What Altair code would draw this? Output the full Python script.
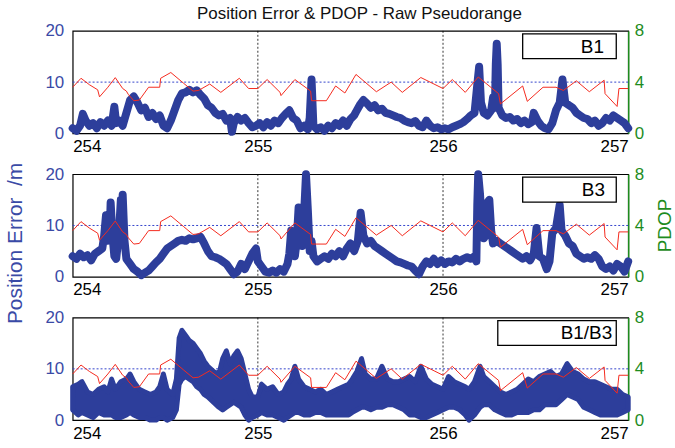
import altair as alt
import pandas as pd

TITLE = "Position Error & PDOP - Raw Pseudorange"
FONT = "Liberation Sans"
panel_labels = ["B1", "B3", "B1/B3"]
x_ticks = [254, 255, 256, 257]
grid_days = [255, 256]
err_ticks = [0, 10, 20]
pdop_ticks = [0, 4, 8]
err_ref = [10]

# PDOP (same geometry in every panel)
pdop_day = [254.00, 254.045, 254.09, 254.135, 254.145, 254.19, 254.23, 254.27, 254.29, 254.30,
            254.33, 254.36, 254.41, 254.47, 254.475, 254.53, 254.60, 254.65, 254.68, 254.74,
            254.80, 254.90, 254.95, 255.00, 255.05, 255.12, 255.125, 255.20, 255.285, 255.29,
            255.37, 255.42, 255.47, 255.53, 255.64, 255.72, 255.78, 255.88, 256.00, 256.05,
            256.12, 256.19, 256.30, 256.31, 256.43, 256.455, 256.54, 256.61, 256.65, 256.72,
            256.79, 256.87, 256.875, 256.94, 256.95, 257.00]
pdop_val = [3.6, 4.3, 3.8, 3.4, 2.85, 3.6, 4.35, 3.5, 3.3, 3.05,
            2.55, 2.6, 3.6, 3.6, 4.3, 4.75, 3.9, 3.3, 3.35, 3.85,
            3.2, 4.3, 3.5, 3.5, 4.2, 3.2, 2.95, 4.2, 3.3, 2.55,
            2.55, 3.7, 3.15, 4.6, 3.25, 4.0, 3.2, 4.36, 3.5, 4.2,
            3.2, 4.4, 3.1, 2.3, 3.7, 2.5, 3.6, 3.6, 3.35, 4.1,
            3.25, 4.15, 3.1, 2.1, 3.5, 3.5]

# B1 position error (m)
b1_day = [254.00, 254.02, 254.04, 254.055, 254.07, 254.09, 254.11, 254.13, 254.15, 254.17,
          254.19, 254.21, 254.225, 254.235, 254.25, 254.27, 254.29, 254.31, 254.33, 254.35,
          254.37, 254.39, 254.41, 254.43, 254.45, 254.47, 254.49, 254.51, 254.53, 254.55,
          254.57, 254.59, 254.61, 254.63, 254.65, 254.67, 254.69, 254.71, 254.73, 254.75,
          254.77, 254.79, 254.81, 254.83, 254.85, 254.86, 254.87, 254.89, 254.91, 254.93,
          254.95, 254.97, 254.99, 255.01, 255.03, 255.05, 255.07, 255.09, 255.11, 255.13,
          255.15, 255.17, 255.19, 255.21, 255.23, 255.25, 255.27, 255.28, 255.29, 255.30,
          255.32, 255.34, 255.36, 255.38, 255.40, 255.42, 255.44, 255.46, 255.48, 255.50,
          255.52, 255.53, 255.55, 255.57, 255.59, 255.61, 255.63, 255.65, 255.67, 255.69,
          255.71, 255.73, 255.75, 255.77, 255.79, 255.81, 255.83, 255.85, 255.87, 255.89,
          255.91, 255.93, 255.95, 255.97, 255.99, 256.01, 256.03, 256.05, 256.07, 256.09,
          256.11, 256.13, 256.15, 256.17, 256.185, 256.195, 256.205, 256.22, 256.24, 256.26,
          256.27, 256.28, 256.285, 256.29, 256.295, 256.30, 256.32, 256.34, 256.36, 256.38,
          256.40, 256.42, 256.44, 256.46, 256.48, 256.49, 256.51, 256.53, 256.55, 256.57,
          256.59, 256.61, 256.63, 256.645, 256.66, 256.68, 256.70, 256.72, 256.74, 256.76,
          256.78, 256.80, 256.82, 256.84, 256.86, 256.88, 256.90, 256.92, 256.94, 256.96,
          256.98, 257.00]
b1_err = [1.0, 0.5, 1.5, 3.8, 2.5, 1.5, 2.0, 1.0, 2.2, 1.5,
          2.5, 1.5, 5.2, 2.0, 2.5, 1.5, 4.0, 6.5, 7.2, 6.0,
          4.5, 5.0, 3.2, 4.0, 2.8, 3.5, 1.5, 1.0, 2.5, 4.5,
          6.5, 7.8, 8.0, 8.5, 8.0, 8.4, 7.5, 6.8, 5.5, 5.0,
          4.0, 3.5, 3.8, 2.5, 3.0, 0.3, 2.0, 3.2, 2.5, 3.0,
          2.0, 1.2, 1.5, 2.0, 1.2, 2.2, 1.5, 2.5, 2.0, 3.0,
          3.8, 4.5, 3.0, 2.5, 1.0, 1.5, 0.8, 3.0, 10.5, 1.5,
          0.8, 1.2, 0.5, 1.5, 1.0, 2.0, 1.5, 2.5, 1.5, 2.8,
          3.5, 4.2, 5.5, 6.5, 5.8, 5.0, 5.5, 4.5, 4.8, 4.0,
          3.8, 3.5, 3.2, 3.0, 2.5, 2.2, 2.0, 2.4, 1.5, 1.2,
          2.5, 1.5, 1.0, 1.2, 0.8, 1.0, 0.8, 1.2, 1.5, 1.8,
          2.2, 2.8, 3.5, 4.0, 9.5, 13.0, 6.0, 4.0, 3.5, 4.5,
          7.0, 5.0, 13.5, 17.5, 13.5, 5.0, 3.5, 3.0, 3.2, 2.5,
          2.8, 2.0, 2.5, 1.8, 2.2, 4.0, 2.5, 1.5, 1.0, 0.8,
          2.0, 4.5, 6.0, 10.5, 6.0, 5.5, 5.0, 4.0, 3.5, 3.0,
          2.8, 2.0, 2.5, 1.5, 2.0, 3.0, 2.5, 3.5, 3.0, 2.5,
          2.0, 1.0]

# B3 position error (m)
b3_day = [254.00, 254.02, 254.04, 254.06, 254.08, 254.10, 254.12, 254.14, 254.16, 254.17,
          254.18, 254.19, 254.20, 254.205, 254.215, 254.225, 254.235, 254.25, 254.26, 254.265,
          254.27, 254.28, 254.29, 254.31, 254.33, 254.35, 254.37, 254.39, 254.41, 254.43,
          254.45, 254.47, 254.49, 254.51, 254.53, 254.55, 254.57, 254.59, 254.61, 254.63,
          254.65, 254.67, 254.69, 254.71, 254.73, 254.75, 254.77, 254.79, 254.81, 254.83,
          254.85, 254.87, 254.89, 254.91, 254.93, 254.95, 254.97, 254.99, 255.00, 255.02,
          255.04, 255.06, 255.08, 255.10, 255.12, 255.14, 255.16, 255.17, 255.18, 255.19,
          255.20, 255.21, 255.22, 255.23, 255.24, 255.25, 255.26, 255.27, 255.28, 255.29,
          255.30, 255.32, 255.34, 255.36, 255.38, 255.40, 255.42, 255.44, 255.46, 255.48,
          255.50, 255.52, 255.54, 255.555, 255.57, 255.59, 255.61, 255.63, 255.65, 255.67,
          255.69, 255.71, 255.73, 255.75, 255.77, 255.79, 255.81, 255.83, 255.85, 255.87,
          255.89, 255.91, 255.93, 255.95, 255.97, 255.99, 256.01, 256.03, 256.05, 256.07,
          256.09, 256.11, 256.13, 256.15, 256.17, 256.18, 256.185, 256.19, 256.20, 256.21,
          256.22, 256.23, 256.24, 256.25, 256.26, 256.27, 256.29, 256.31, 256.33, 256.35,
          256.37, 256.39, 256.41, 256.43, 256.45, 256.47, 256.49, 256.505, 256.52, 256.54,
          256.56, 256.575, 256.59, 256.61, 256.63, 256.64, 256.66, 256.68, 256.70, 256.72,
          256.74, 256.76, 256.78, 256.80, 256.82, 256.84, 256.86, 256.88, 256.90, 256.92,
          256.94, 256.96, 256.98, 257.00]
b3_err = [4.0, 3.5, 4.5, 3.8, 4.2, 3.2, 4.5, 5.0, 5.5, 8.0,
          12.0, 7.0, 8.5, 14.5, 8.0, 4.0, 3.5, 8.5, 15.0, 10.0,
          16.0, 7.0, 3.5, 2.5, 1.5, 1.0, 0.3, 0.8, 1.2, 2.0,
          2.8, 3.5, 4.5, 5.5, 6.0, 6.5, 7.0, 7.2, 7.0, 7.5,
          7.3, 7.5, 7.8, 6.5, 5.0, 4.0, 3.8, 3.5, 3.0, 2.5,
          1.5, 0.5, 1.0, 2.5, 1.5, 3.0, 4.5, 5.5, 3.0, 2.0,
          1.0, 0.8, 1.2, 0.8, 1.5, 1.0, 2.5, 4.5, 9.0, 5.0,
          4.0, 7.0, 13.5, 8.0, 6.0, 12.5, 20.0, 13.0, 5.0, 7.0,
          4.0, 3.0, 3.5, 4.0, 3.5, 4.5, 4.0, 5.0, 4.0, 5.5,
          6.5, 5.0, 7.0, 12.5, 8.0, 6.5, 7.0, 6.0, 5.5, 5.0,
          4.5, 4.0, 3.5, 3.0, 2.8, 2.5, 2.2, 2.0, 1.2, 0.5,
          2.0, 3.0, 2.5, 3.5, 2.5, 3.2, 2.5, 3.0, 2.8, 3.5,
          3.0, 3.5, 3.8, 3.5, 4.0, 3.0, 14.0, 20.0, 16.0, 9.5,
          7.5, 8.0, 14.5, 15.0, 9.0, 6.5, 7.0, 6.5, 6.0, 5.5,
          5.0, 4.5, 4.0, 3.5, 4.0, 3.2, 4.5, 9.5, 4.0, 3.5,
          1.5, 3.0, 8.5, 9.5, 14.0, 9.0, 8.0, 6.5, 6.0, 4.5,
          4.0, 3.5, 3.8, 3.5, 4.2, 3.5, 2.0, 1.5, 2.0, 1.2,
          2.5, 2.0, 1.0, 3.0]

# B1/B3 position error envelope (m)
b13_day = [254.00, 254.03, 254.05, 254.08, 254.11, 254.14, 254.17, 254.19, 254.21, 254.23,
           254.26, 254.29, 254.31, 254.33, 254.36, 254.39, 254.42, 254.45, 254.47, 254.49,
           254.51, 254.54, 254.56, 254.575, 254.59, 254.61, 254.63, 254.65, 254.67, 254.69,
           254.71, 254.73, 254.76, 254.79, 254.81, 254.83, 254.85, 254.87, 254.89, 254.91,
           254.93, 254.95, 254.97, 255.00, 255.02, 255.05, 255.08, 255.11, 255.14, 255.16,
           255.18, 255.20, 255.22, 255.25, 255.28, 255.31, 255.34, 255.37, 255.40, 255.43,
           255.46, 255.49, 255.51, 255.535, 255.56, 255.58, 255.61, 255.64, 255.67, 255.70,
           255.73, 255.76, 255.79, 255.82, 255.85, 255.88, 255.91, 255.94, 255.97, 256.00,
           256.03, 256.06, 256.09, 256.12, 256.14, 256.17, 256.20, 256.22, 256.25, 256.28,
           256.31, 256.34, 256.37, 256.40, 256.43, 256.46, 256.49, 256.52, 256.55, 256.58,
           256.61, 256.64, 256.67, 256.70, 256.73, 256.76, 256.79, 256.82, 256.85, 256.88,
           256.91, 256.94, 256.97, 257.00]
b13_lo = [2.0, 1.0, 1.5, 1.0, 0.5, 1.5, 1.0, 1.0, 1.0, 0.5,
          0.5, 1.0, 1.5, 1.0, 0.5, 0.5, 0.0, 0.0, 0.5, 0.5,
          0.0, 0.5, 2.0, 7.0, 8.0, 8.5, 8.0, 7.5, 6.5, 6.0,
          5.0, 4.5, 3.5, 2.5, 2.0, 2.5, 3.0, 3.5, 3.0, 2.5,
          1.0, 0.0, 0.5, 1.0, 1.5, 1.0, 1.0, 0.5, 0.0, 0.5,
          1.0, 1.5, 1.5, 1.0, 1.0, 1.5, 1.5, 1.0, 1.0, 1.0,
          1.0, 1.0, 1.5, 2.0, 2.5, 2.5, 2.0, 2.5, 2.5, 3.0,
          3.0, 2.5, 2.0, 1.0, 1.0, 0.5, 0.5, 1.0, 1.5, 2.0,
          2.5, 2.5, 2.0, 1.0, 0.0, 1.0, 2.5, 3.0, 3.0, 2.0,
          1.5, 1.0, 1.0, 1.5, 1.5, 1.5, 2.0, 2.0, 3.0, 3.0,
          3.0, 4.0, 5.0, 4.5, 4.0, 2.5, 2.0, 1.5, 1.0, 1.0,
          1.0, 1.0, 1.5, 2.0]
b13_hi = [6.5, 7.0, 7.5, 5.5, 5.0, 6.0, 6.5, 5.5, 8.0, 6.0,
          7.5, 8.0, 9.0, 7.5, 6.0, 5.5, 5.0, 5.5, 6.5, 9.0,
          6.0, 5.0, 8.0, 16.0, 17.5, 16.5, 15.5, 15.0, 14.0, 13.0,
          11.5, 10.5, 9.5, 9.0, 12.0, 13.5, 11.0, 12.5, 13.5, 12.0,
          9.0, 6.0, 4.5, 4.5, 7.0, 6.0, 6.5, 5.0, 5.5, 7.0,
          8.0, 10.5, 8.0, 6.5, 6.0, 5.5, 6.0, 5.0, 5.5, 6.0,
          6.5, 7.0, 8.0, 9.5, 12.0, 9.0, 8.0, 8.0, 10.5, 8.0,
          7.5, 7.5, 8.0, 8.5, 7.5, 10.5, 8.0, 7.0, 6.5, 6.0,
          8.5, 7.5, 7.0, 6.5, 6.0, 7.5, 10.5, 8.5, 7.5, 6.5,
          5.5, 5.0, 5.5, 6.0, 7.0, 8.0, 7.5, 8.5, 9.0, 9.5,
          8.5, 9.0, 11.0, 9.5, 9.0, 8.0, 7.5, 7.5, 7.0, 6.5,
          6.0, 6.0, 5.0, 4.5]

BLUE = "#2d3e9b"
BLUE_TXT = "#3a4aa6"
GREEN = "#1e8c1e"
RED = "#f42a1e"
W, H = 558, 103

pdop_df = pd.DataFrame({"day": pdop_day, "pdop": pdop_val})
grid_df = pd.DataFrame({"day": grid_days})
ref_df = pd.DataFrame({"err": err_ref})


def x_enc():
    return alt.X("day:Q",
                 scale=alt.Scale(domain=[254, 257], nice=False, zero=False),
                 axis=alt.Axis(values=x_ticks, format="d", grid=False, ticks=False, domain=False,
                               labelFontSize=17, labelColor="black", labelPadding=5,
                               labelFont=FONT, title=None))


def left_axis(with_title):
    kw = dict(values=err_ticks, grid=False, ticks=False, domain=False,
              labelFontSize=17, labelColor=BLUE_TXT, labelPadding=9, labelFont=FONT)
    if with_title:
        kw.update(title="Position Error\u00a0 /m", titleFontSize=21, titleColor=BLUE_TXT,
                  titleFont=FONT, titleFontWeight="normal", titleAngle=270,
                  titleX=-57, titleY=69, titleBaseline="middle", titleAlign="center")
    else:
        kw.update(title=None)
    return alt.Axis(**kw)


def right_axis(with_title):
    kw = dict(values=pdop_ticks, orient="right", grid=False, ticks=False, domain=True,
              domainColor=GREEN, domainWidth=1.5, labelFontSize=17, labelColor=GREEN,
              labelPadding=6, labelFont=FONT)
    if with_title:
        kw.update(title="PDOP", titleFontSize=19, titleColor=GREEN, titleFont=FONT,
                  titleFontWeight="normal", titleAngle=270, titleX=36, titleY=51,
                  titleBaseline="middle", titleAlign="center")
    else:
        kw.update(title=None)
    return alt.Axis(**kw)


def panel(idx, blue_layer_fn, box_x1, text_x):
    with_title = idx == 1
    yscale = alt.Scale(domain=[0, 20], nice=False)
    la = left_axis(with_title)
    grid = alt.Chart(grid_df).mark_rule(color="black", strokeDash=[2, 2], strokeWidth=0.8).encode(x=x_enc())
    ref = alt.Chart(ref_df).mark_rule(color="#3344cc", strokeDash=[2, 2], strokeWidth=1).encode(
        y=alt.Y("err:Q", scale=yscale, axis=la))
    blue = blue_layer_fn(yscale, la)
    left = alt.layer(grid, ref, blue)
    red = alt.Chart(pdop_df).mark_line(color=RED, strokeWidth=1, interpolate="linear").encode(
        x=x_enc(),
        y=alt.Y("pdop:Q", scale=alt.Scale(domain=[0, 8], nice=False), axis=right_axis(with_title)))
    lab_df = pd.DataFrame({"label": [panel_labels[idx]]})
    box = alt.Chart(lab_df).mark_rect(fill="white", stroke="black", strokeWidth=1.3).encode(
        x=alt.value(box_x1), x2=alt.value(546), y=alt.value(3), y2=alt.value(28))
    txt = alt.Chart(lab_df).mark_text(fontSize=19, font=FONT, color="black", align="center",
                                      baseline="middle").encode(
        x=alt.value(text_x), y=alt.value(16), text="label:N")
    return alt.layer(left, red, box, txt).resolve_scale(y="independent").properties(width=W, height=H)


def line_layer(days, errs):
    df = pd.DataFrame({"day": days, "err": errs})

    def fn(yscale, la):
        return alt.Chart(df).mark_line(color=BLUE, strokeWidth=8, strokeCap="round",
                                       strokeJoin="round").encode(
            x=x_enc(), y=alt.Y("err:Q", scale=yscale, axis=la))
    return fn


def band_layer(days, lo, hi):
    df = pd.DataFrame({"day": days, "lo": lo, "hi": hi})

    def fn(yscale, la):
        return alt.Chart(df).mark_area(color=BLUE, stroke=BLUE, strokeWidth=5,
                                       strokeJoin="round", opacity=1).encode(
            x=x_enc(), y=alt.Y("lo:Q", scale=yscale, axis=la), y2="hi:Q")
    return fn


p1 = panel(0, line_layer(b1_day, b1_err), 452, 522)
p2 = panel(1, line_layer(b3_day, b3_err), 452, 523)
p3 = panel(2, band_layer(b13_day, b13_lo, b13_hi), 427, 516)

chart = alt.vconcat(p1, p2, p3, spacing=41, bounds="flush").properties(
    title=alt.Title(TITLE, fontSize=17, font=FONT, fontWeight="normal", color="#111111",
                    anchor="middle", offset=-2, dx=20),
    padding={"left": 4, "top": 4, "right": 0, "bottom": 0},
).configure_view(stroke="black", strokeWidth=1.2)

chart.save("out.html", embed_options={"renderer": "svg", "actions": False})
